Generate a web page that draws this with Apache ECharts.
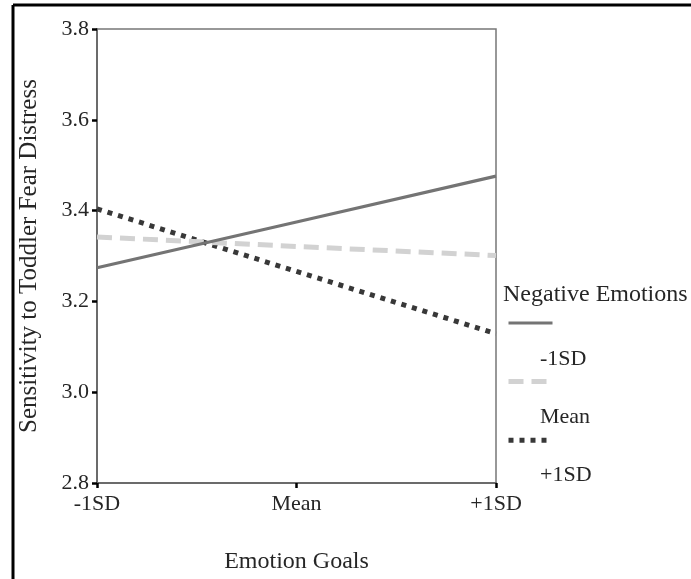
<!DOCTYPE html>
<html>
<head>
<meta charset="utf-8">
<script src="https://cdn.jsdelivr.net/npm/echarts@6/dist/echarts.min.js"></script>
<style>
  html, body { margin: 0; padding: 0; background: #fff; }
  #chart { width: 691px; height: 579px; }
</style>
</head>
<body>
<div id="chart"></div>
<script>
// ---- data ----
const categories = ['-1SD', 'Mean', '+1SD'];
const seriesNames = ['-1SD', 'Mean', '+1SD'];
const negLow = [3.274, 3.375, 3.476];
const negMean = [3.342, 3.321, 3.301];
const negHigh = [3.404, 3.266, 3.129];
const yTicks = { min: 2.8, max: 3.8, interval: 0.2 };
const legendTitle = 'Negative Emotions';
const xTitle = 'Emotion Goals';
const yTitle = 'Sensitivity to Toddler Fear Distress';

const FONT = '"Liberation Serif", "Times New Roman", serif';
const TXT = '#262626';

const chart = echarts.init(document.getElementById('chart'), null, { renderer: 'canvas' });

const lineStyles = [
  { color: '#747474', width: 3.2, type: 'solid' },
  { color: '#d2d2d2', width: 5, type: [15, 8], cap: 'butt' },
  { color: '#383838', width: 5, type: [5, 6], cap: 'butt' }
];
const dataSets = [negLow, negMean, negHigh];

const option = {
  backgroundColor: '#fff',
  animation: false,
  title: {
    text: legendTitle,
    left: 498,
    top: 278,
    textStyle: { fontFamily: FONT, fontSize: 24, fontWeight: 'normal', color: TXT }
  },
  graphic: [
    { type: 'line', shape: { x1: 13, y1: 5, x2: 691, y2: 5 }, style: { stroke: '#000', lineWidth: 3 } },
    { type: 'line', shape: { x1: 13, y1: 5, x2: 13, y2: 579 }, style: { stroke: '#000', lineWidth: 3 } }
  ],
  legend: [
    {
      data: seriesNames.map(function (n, i) {
        return {
          name: n,
          itemStyle: { opacity: 0 },
          lineStyle: {
            color: lineStyles[i].color,
            width: lineStyles[i].width,
            type: lineStyles[i].type,
            cap: 'butt',
            opacity: 1
          }
        };
      }),
      orient: 'vertical',
      left: 501,
      top: 311,
      itemWidth: 44,
      itemHeight: 14,
      itemGap: 46,
      formatter: function () { return ''; },
      selectedMode: false
    },
    {
      data: seriesNames,
      orient: 'vertical',
      left: 530,
      top: 342,
      itemWidth: 0,
      itemHeight: 24,
      itemGap: 34,
      icon: 'rect',
      itemStyle: { opacity: 0 },
      lineStyle: { opacity: 0 },
      selectedMode: false,
      textStyle: { fontFamily: FONT, fontSize: 22, color: TXT, lineHeight: 24 }
    }
  ],
  grid: {
    left: 97, top: 29, right: 195, bottom: 94,
    show: true, borderColor: '#777', borderWidth: 1.5, backgroundColor: 'transparent'
  },
  xAxis: {
    type: 'category',
    data: categories,
    boundaryGap: false,
    name: xTitle,
    nameLocation: 'middle',
    nameGap: 67,
    nameTextStyle: { fontFamily: FONT, fontSize: 24, color: TXT },
    axisLine: { lineStyle: { color: '#6b6b6b', width: 2 } },
    axisTick: { show: true, length: 5, lineStyle: { color: '#000', width: 2.5 } },
    axisLabel: { margin: 10, fontFamily: FONT, fontSize: 22, color: TXT },
    splitLine: { show: false }
  },
  yAxis: {
    type: 'value',
    min: yTicks.min,
    max: yTicks.max,
    interval: yTicks.interval,
    name: yTitle,
    nameLocation: 'middle',
    nameRotate: 90,
    nameGap: 55,
    nameTextStyle: { fontFamily: FONT, fontSize: 25, color: TXT },
    axisLine: { show: true, lineStyle: { color: '#6b6b6b', width: 2 } },
    axisTick: { show: true, length: 5, lineStyle: { color: '#000', width: 2.5 } },
    axisLabel: {
      margin: 8, fontFamily: FONT, fontSize: 22, color: TXT,
      formatter: function (v) { return v.toFixed(1); }
    },
    splitLine: { show: false }
  },
  series: seriesNames.map(function (name, i) {
    return {
      name: name,
      type: 'line',
      data: dataSets[i],
      symbol: 'none',
      showSymbol: false,
      lineStyle: lineStyles[i],
      itemStyle: { color: lineStyles[i].color },
      z: 3 - i
    };
  })
};

chart.setOption(option);
</script>
</body>
</html>
